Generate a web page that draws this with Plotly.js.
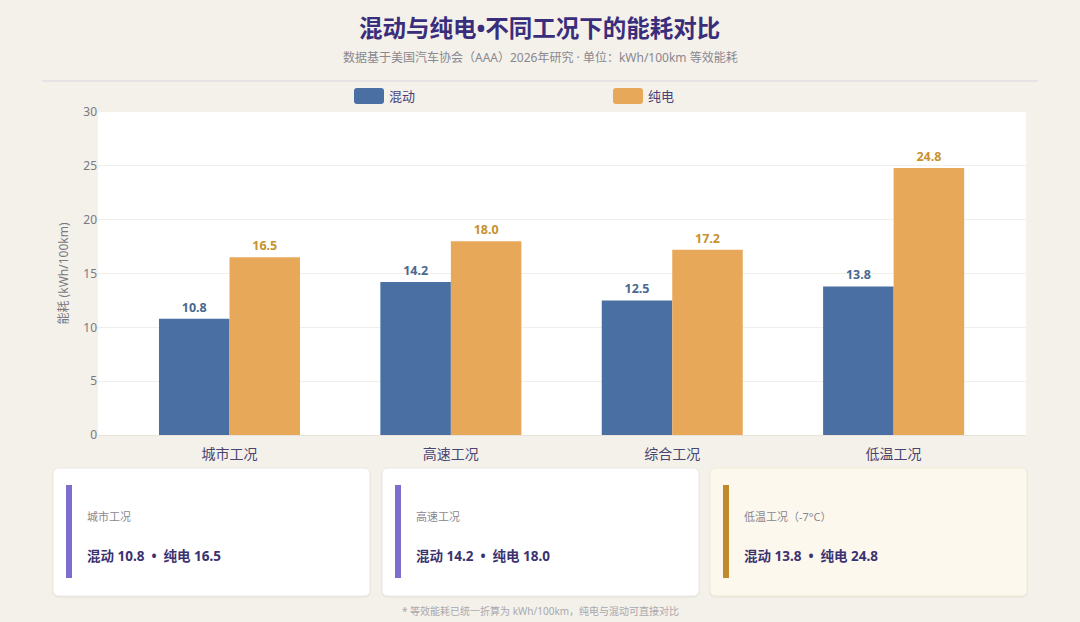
<!DOCTYPE html>
<html>
<head>
<meta charset="utf-8">
<script src="https://cdn.plot.ly/plotly-3.0.1.min.js"></script>
<style>
  html,body{margin:0;padding:0;background:#f3f1ea;}
  #chart{width:1080px;height:622px;}
</style>
</head>
<body>
<div id="chart"></div>
<script>
// ---- data ----
const categories = ['城市工况', '高速工况', '综合工况', '低温工况'];
const seriesNames = ['混动', '纯电'];
const hybrid = [10.8, 14.2, 12.5, 13.8];
const ev = [16.5, 18.0, 17.2, 24.8];
const cardIndex = [0, 1, 3];
const cardLabels = ['城市工况', '高速工况', '低温工况（-7°C）'];
const yTicks = [0, 5, 10, 15, 20, 25, 30];

const titleText = '混动与纯电•不同工况下的能耗对比';
const subtitleText = '数据基于美国汽车协会（AAA）2026年研究 · 单位：kWh/100km 等效能耗';
const yTitle = '能耗 (kWh/100km)';
const footnote = '* 等效能耗已统一折算为 kWh/100km，纯电与混动可直接对比';

// ---- layout helpers (pixel -> paper) ----
const L = 98, R = 1026, T = 112, B = 435;
const W = R - L, H = B - T;
const FONT = '"Noto Sans", "Noto Sans CJK SC", sans-serif';
function px(x){ return (x - L) / W; }
function py(y){ return (B - y) / H; }
function rr(x0, y0, x1, y1, r){
  const a = px(x0), b = px(x1), c = py(y0), d = py(y1);
  const rx = r / W, ry = r / H;
  return `M${a+rx},${c} L${b-rx},${c} Q${b},${c} ${b},${c-ry} L${b},${d+ry} Q${b},${d} ${b-rx},${d} L${a+rx},${d} Q${a},${d} ${a},${d+ry} L${a},${c-ry} Q${a},${c} ${a+rx},${c} Z`;
}

const colHybrid = '#4a6fa3';
const colEV = '#e8a85a';

const traces = [
  {
    type: 'bar', name: seriesNames[0], x: categories, y: hybrid,
    marker: {color: colHybrid},
    text: hybrid.map(v => '<b>' + v.toFixed(1) + '</b>'),
    textposition: 'outside', cliponaxis: false,
    textfont: {family: FONT, size: 12.5, color: '#4a6890'},
    hoverinfo: 'x+y', showlegend: false
  },
  {
    type: 'bar', name: seriesNames[1], x: categories, y: ev,
    marker: {color: colEV},
    text: ev.map(v => '<b>' + v.toFixed(1) + '</b>'),
    textposition: 'outside', cliponaxis: false,
    textfont: {family: FONT, size: 12.5, color: '#c8922e'},
    hoverinfo: 'x+y', showlegend: false
  }
];

const shapes = [];
const annotations = [];

// header divider
shapes.push({type:'line', xref:'paper', yref:'paper', x0:px(42), x1:px(1038), y0:py(81), y1:py(81),
  line:{color:'#dad6e2', width:1.2}, layer:'below'});

// custom legend
const legendItems = [
  {x: 354, color: colHybrid, name: seriesNames[0]},
  {x: 613, color: colEV, name: seriesNames[1]}
];
legendItems.forEach(it => {
  shapes.push({type:'path', xref:'paper', yref:'paper', path: rr(it.x, 88, it.x + 30, 104, 3),
    fillcolor: it.color, line:{width:0}});
  annotations.push({xref:'paper', yref:'paper', x:px(it.x + 33), y:py(95.5), xanchor:'left', yanchor:'middle',
    text: it.name, showarrow:false, font:{family:FONT, size:13, color:'#4a3f7a'}});
});

// cards
const cardX = [53, 382, 710];
const cardW = 317;
const SEP = '\u00a0\u00a0•\u00a0\u00a0';
cardIndex.forEach((ci, k) => {
  const x0 = cardX[k], x1 = x0 + cardW, y0 = 468, y1 = 596;
  const special = k === 2;
  shapes.push({type:'path', xref:'paper', yref:'paper', path: rr(x0-1, y0, x1+1, y1+2, 7),
    fillcolor:'rgba(120,110,90,0.06)', line:{width:0}, layer:'below'});
  shapes.push({type:'path', xref:'paper', yref:'paper', path: rr(x0, y0, x1, y1, 6),
    fillcolor: special ? '#fcf8ee' : '#ffffff', line:{color: special ? '#f1e9d8' : '#ebe8e1', width:1}, layer:'below'});
  shapes.push({type:'rect', xref:'paper', yref:'paper', x0:px(x0+13), x1:px(x0+19), y0:py(485), y1:py(578),
    fillcolor: special ? '#c0892c' : '#7b6fcb', line:{width:0}});
  annotations.push({xref:'paper', yref:'paper', x:px(x0+32), y:py(516), xanchor:'left', yanchor:'middle',
    text: cardLabels[k], showarrow:false, font:{family:FONT, size:11, color:'#8a8790'}});
  annotations.push({xref:'paper', yref:'paper', x:px(x0+32), y:py(556), xanchor:'left', yanchor:'middle',
    text: '<b>' + seriesNames[0] + ' ' + hybrid[ci].toFixed(1) + SEP + seriesNames[1] + ' ' + ev[ci].toFixed(1) + '</b>',
    showarrow:false, font:{family:FONT, size:13.5, color:'#3b3270'}});
});

// title / subtitle / footnote
annotations.push({xref:'paper', yref:'paper', x:px(539), y:py(28), xanchor:'center', yanchor:'middle',
  text:'<b>' + titleText + '</b>', showarrow:false, font:{family:FONT, size:23.5, color:'#3a2e7c'}});
annotations.push({xref:'paper', yref:'paper', x:px(540), y:py(57), xanchor:'center', yanchor:'middle',
  text: subtitleText, showarrow:false, font:{family:FONT, size:12, color:'#8a8790'}});
annotations.push({xref:'paper', yref:'paper', x:px(540), y:py(611), xanchor:'center', yanchor:'middle',
  text: footnote, showarrow:false, font:{family:FONT, size:10, color:'#aaa8ae'}});

const layout = {
  width: 1080, height: 622,
  paper_bgcolor: '#f3f1ea', plot_bgcolor: '#ffffff',
  margin: {l: L, r: 1080 - R, t: T, b: 622 - B, pad: 0},
  barmode: 'group', bargap: 0.363, bargroupgap: 0,
  font: {family: FONT},
  xaxis: {
    type: 'category', range: [-0.594, 3.598], showgrid: false, zeroline: false, showline: false,
    ticks: 'outside', ticklen: 6, tickcolor: 'rgba(0,0,0,0)',
    tickfont: {family: FONT, size: 14, color: '#4a4470'}, fixedrange: true
  },
  yaxis: {
    range: [0, 30], tickvals: yTicks, ticktext: yTicks.map(String),
    showgrid: true, gridcolor: '#f1efea', gridwidth: 1, zeroline: true, zerolinecolor: '#e8e4dc',
    showline: false, ticks: '', ticklen: 0, tickfont: {family: FONT, size: 12, color: '#7a7880'},
    title: {text: yTitle, font: {family: FONT, size: 12, color: '#7a7880'}, standoff: 12},
    fixedrange: true
  },
  shapes: shapes,
  annotations: annotations,
  showlegend: false
};

Plotly.newPlot('chart', traces, layout, {displayModeBar: false, staticPlot: true});
</script>
</body>
</html>
